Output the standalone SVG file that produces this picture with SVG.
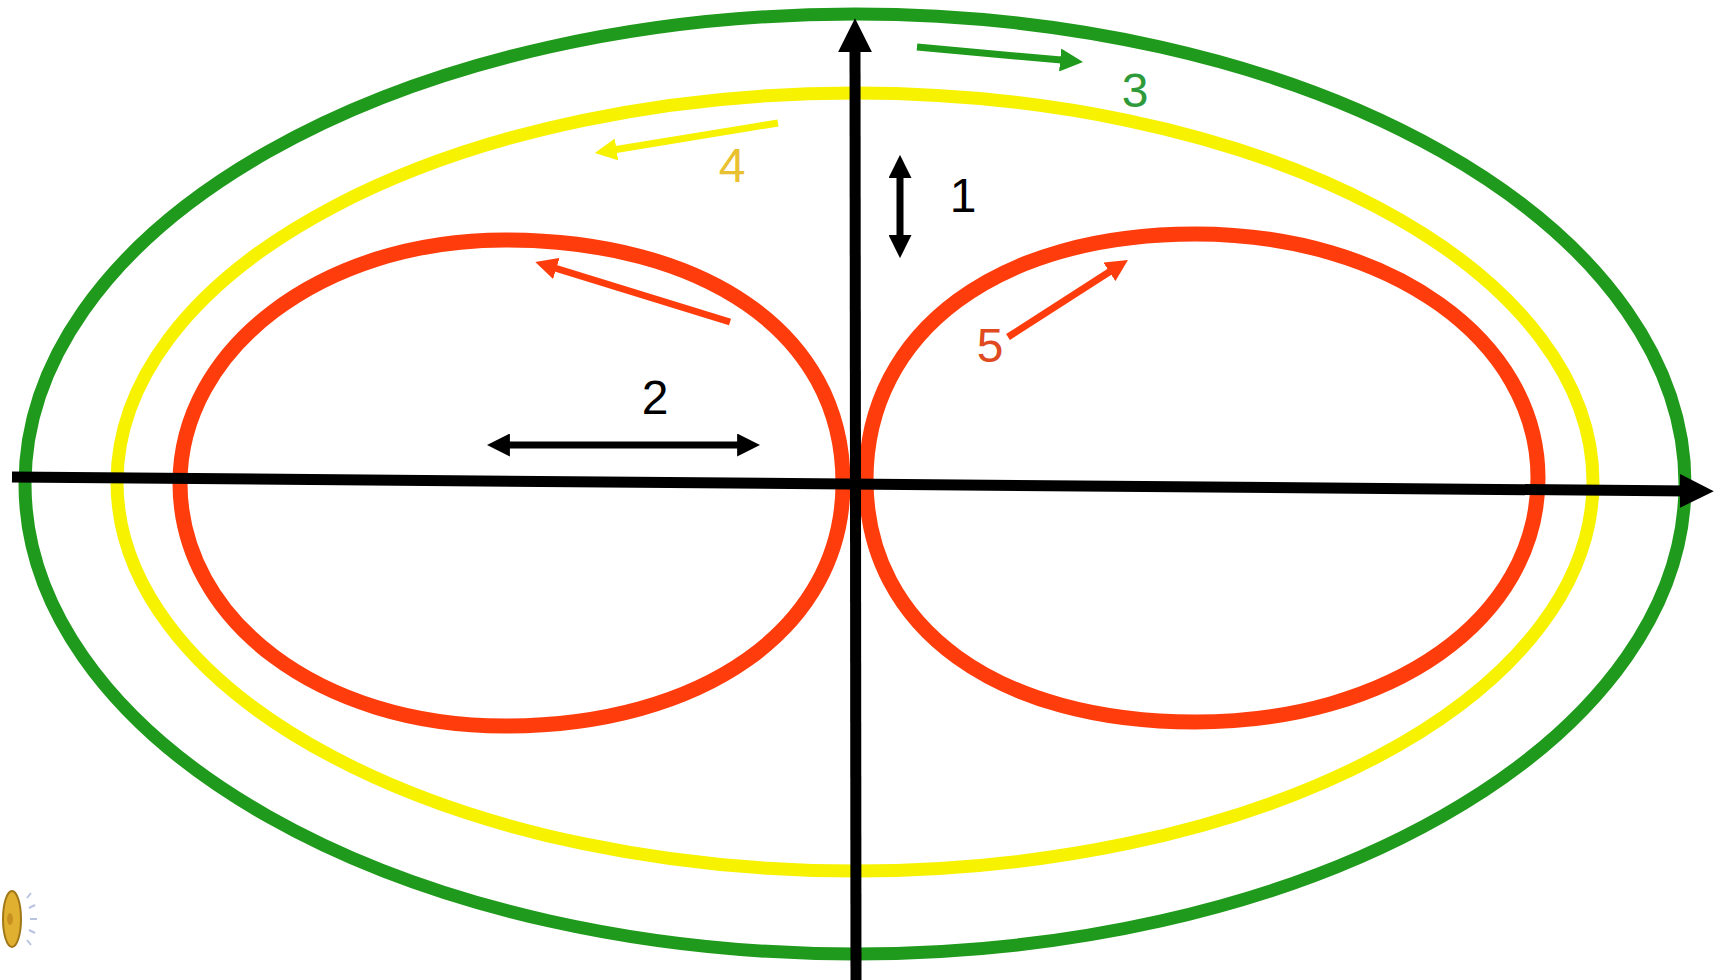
<svg xmlns="http://www.w3.org/2000/svg" width="1723" height="980" viewBox="0 0 1723 980">
<defs>
<style>
.loop{fill:none;stroke-width:13}
.green{stroke:#1f9a1c}
.yellow{stroke:#f7f200}
.red{stroke:#ff3c0c;stroke-width:15}
.axis{stroke:#000;stroke-width:11;fill:none}
.arr{fill:none;stroke-width:7}
.lbl{font-family:"Liberation Sans",Arial,sans-serif;font-size:48px;text-anchor:middle;dominant-baseline:central}
</style>
<marker id="hBlack" viewBox="0 0 10 10" refX="3" refY="5" markerWidth="23" markerHeight="23" orient="auto-start-reverse" markerUnits="userSpaceOnUse"><path d="M0 0L10 5L0 10Z" fill="#000"/></marker>
<marker id="hAxis" viewBox="0 0 10 10" refX="3" refY="5" markerWidth="34" markerHeight="34" orient="auto" markerUnits="userSpaceOnUse"><path d="M0 0L10 5L0 10Z" fill="#000"/></marker>
<marker id="hGreen" viewBox="0 0 10 10" refX="3" refY="5" markerWidth="23" markerHeight="23" orient="auto" markerUnits="userSpaceOnUse"><path d="M0 0L10 5L0 10Z" fill="#1f9a1c"/></marker>
<marker id="hYellow" viewBox="0 0 10 10" refX="3" refY="5" markerWidth="22" markerHeight="22" orient="auto" markerUnits="userSpaceOnUse"><path d="M0 0L10 5L0 10Z" fill="#f7f200"/></marker>
<marker id="hRed" viewBox="0 0 10 10" refX="3" refY="5" markerWidth="22" markerHeight="22" orient="auto" markerUnits="userSpaceOnUse"><path d="M0 0L10 5L0 10Z" fill="#ff3c0c"/></marker>
</defs>
<rect width="1723" height="980" fill="#fff"/>
<g id="green-orbit"><ellipse class="loop green" cx="855" cy="484" rx="830" ry="470"/></g>
<g id="yellow-orbit"><ellipse class="loop yellow" cx="855" cy="482" rx="738" ry="389"/></g>
<g id="red-left-loop"><path class="loop red" d="M843 483C843 330 700 240 505 240C320 240 180 350 180 483C180 620 320 726 505 726C700 726 843 630 843 483Z"/></g>
<g id="red-right-loop"><path class="loop red" d="M866 480C866 330 1000 234 1195 234C1390 234 1538 340 1538 478C1538 620 1390 722 1195 722C1000 722 866 630 866 480Z"/></g>
<g id="connectors">
<line class="axis" x1="12" y1="477" x2="1690" y2="491" marker-end="url(#hAxis)"/>
<line class="axis" x1="856" y1="980" x2="855" y2="42" marker-end="url(#hAxis)"/>
<line class="arr" stroke="#1f9a1c" x1="917" y1="47" x2="1067" y2="60.6" marker-end="url(#hGreen)"/>
<line class="arr" stroke="#f7f200" x1="778" y1="123" x2="610" y2="150.5" marker-end="url(#hYellow)"/>
<line class="arr" stroke="#000" stroke-width="5" x1="900" y1="171" x2="900" y2="242" marker-start="url(#hBlack)" marker-end="url(#hBlack)"/>
<line class="arr" stroke="#000" stroke-width="5" x1="503" y1="445" x2="744" y2="445" marker-start="url(#hBlack)" marker-end="url(#hBlack)"/>
<line class="arr" stroke="#ff3c0c" x1="730" y1="322" x2="550" y2="266.5" marker-end="url(#hRed)"/>
<line class="arr" stroke="#ff3c0c" x1="1008" y1="337" x2="1115" y2="268.3" marker-end="url(#hRed)"/>
</g>
<g id="labels">
<text class="lbl" x="1135" y="90" fill="#2e9a3a">3</text>
<text class="lbl" x="732" y="165" fill="#e8c030">4</text>
<text class="lbl" x="963" y="195" fill="#000">1</text>
<text class="lbl" x="655" y="397" fill="#000">2</text>
<text class="lbl" x="990" y="345" fill="#e04a20">5</text>
</g>
<g id="speaker-icon">
<ellipse cx="12" cy="919" rx="9" ry="28" fill="#e0b030" stroke="#a07818" stroke-width="2"/>
<ellipse cx="10" cy="919" rx="3" ry="6" fill="#c89020"/>
<g stroke="#b8c4e0" stroke-width="2"><line x1="27" y1="898" x2="31" y2="893"/><line x1="29" y1="908" x2="35" y2="905"/><line x1="30" y1="919" x2="37" y2="919"/><line x1="29" y1="930" x2="35" y2="933"/><line x1="27" y1="940" x2="31" y2="945"/></g>
</g>
</svg>
